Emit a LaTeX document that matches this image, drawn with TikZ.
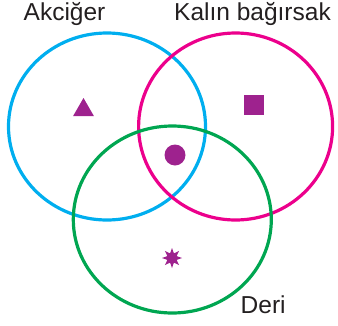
\documentclass[tikz,border=0pt]{standalone}
\usepackage{fontspec}
\setmainfont{Liberation Sans}
\usetikzlibrary{shapes.geometric}
\definecolor{akcigerblue}{RGB}{0,174,239}
\definecolor{kalinpink}{RGB}{236,0,140}
\definecolor{derigreen}{RGB}{0,166,81}
\definecolor{isaret}{RGB}{158,34,142}
\definecolor{yazi}{RGB}{35,31,32}
\tikzset{
  halka/.style={line width=3.2pt},
  etiket/.style={anchor=base west, inner sep=0pt, text=yazi,
    font=\fontsize{24.5}{28}\selectfont},
  isaretci/.style={fill=isaret, draw=none, inner sep=0pt}
}
\begin{document}
\begin{tikzpicture}[x=1pt, y=-1pt]
  \useasboundingbox (0,0) rectangle (338,325);
  \draw[halka, akcigerblue] (107,126.5) ellipse (98.5 and 93.5);
  \draw[halka, kalinpink] (235.6,126.5) ellipse (97 and 93.5);
  \draw[halka, derigreen] (172.3,219.5) ellipse (99 and 93.5);
  \node[etiket] (akciger) at (23.5,20.5) {Akciğer};
  \node[etiket] (kalin) at (174,20.5) {Kalın bağırsak};
  \node[etiket] (deri) at (240.5,313.5) {Deri};
  \node[isaretci, regular polygon, regular polygon sides=3,
    minimum size=24pt] (ucgen) at (83.5,110) {};
  \node[isaretci, rectangle, minimum size=20.5pt] (kare) at (254,105) {};
  \node[isaretci, circle, minimum size=21pt] (daire) at (175,155) {};
  \node[isaretci, star, star points=8, star point ratio=2,
    minimum size=20pt] (yildiz) at (172,258) {};
\end{tikzpicture}
\end{document}
